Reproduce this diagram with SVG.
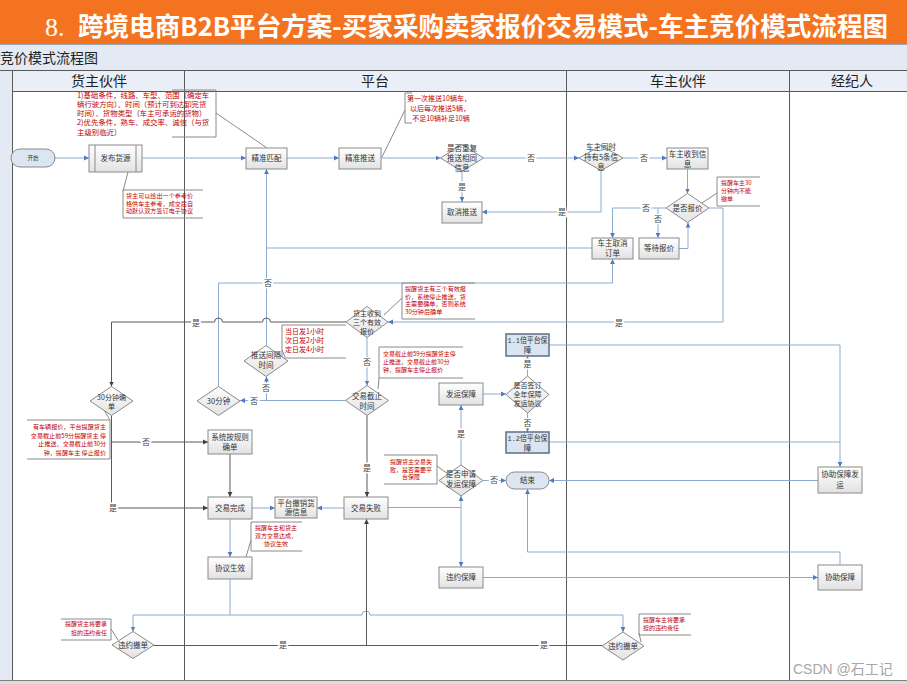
<svg xmlns="http://www.w3.org/2000/svg" width="907" height="684" viewBox="0 0 907 684">
<defs>
<linearGradient id="g" x1="0" y1="0" x2="0" y2="1"><stop offset="0" stop-color="#ffffff"/><stop offset="1" stop-color="#e2e2e2"/></linearGradient>
<marker id="ab" markerWidth="6" markerHeight="6" refX="5" refY="3" orient="auto" markerUnits="userSpaceOnUse"><path d="M0,0.6 L5,3 L0,5.4z" fill="#4F7CC0"/></marker>
<marker id="ad" markerWidth="6" markerHeight="6" refX="5" refY="3" orient="auto" markerUnits="userSpaceOnUse"><path d="M0,0.6 L5,3 L0,5.4z" fill="#404040"/></marker>
<style>
.n{fill:url(#g);stroke:#8a8a8a;stroke-width:1}
.tm{fill:#dce6f2;stroke:#8a8a8a;stroke-width:1}
.bl{fill:#dbe5f1;stroke:#5f6f86;stroke-width:1.5}
.t{font-family:"Noto Sans CJK SC","Liberation Sans",sans-serif;font-size:7.5px;fill:#333;text-anchor:middle}
.t7{font-size:7px}
.c{fill:none;stroke:#8eaad0;stroke-width:1}
.ca{fill:none;stroke:#8eaad0;stroke-width:1;marker-end:url(#ab)}
.d{fill:none;stroke:#5a5a5a;stroke-width:1}
.da{fill:none;stroke:#5a5a5a;stroke-width:1;marker-end:url(#ad)}
.lb{font-family:"Noto Sans CJK SC","Liberation Sans",sans-serif;font-size:8px;fill:#444;text-anchor:middle;stroke:#fff;stroke-width:3px;paint-order:stroke}
.br{fill:none;stroke:#8a8a8a;stroke-width:1}
.an{font-family:"Noto Sans CJK SC","Liberation Sans",sans-serif;font-size:6px;fill:#c00000}
.lane{stroke:#595959;stroke-width:1}
.hd{font-family:"Noto Sans CJK SC",sans-serif;font-size:14px;fill:#222;text-anchor:middle}
</style>
</defs>
<rect width="907" height="684" fill="#fff"/>
<!-- title -->
<rect x="0" y="0" width="907" height="44" fill="#f47321"/>
<text x="45" y="36" font-family="Liberation Serif,serif" font-size="26" fill="#fff">8.</text>
<text x="78" y="36" font-family="Noto Sans CJK SC,sans-serif" font-weight="bold" font-size="26" fill="#fff" textLength="810" lengthAdjust="spacingAndGlyphs">跨境电商B2B平台方案-买家采购卖家报价交易模式-车主竞价模式流程图</text>
<rect x="0" y="44" width="907" height="26" fill="#e4eaf4"/>
<line x1="0" y1="44.5" x2="907" y2="44.5" stroke="#9aa3b0" stroke-width="1"/>
<text x="0" y="63" font-family="Noto Sans CJK SC,sans-serif" font-size="14" fill="#222">竞价模式流程图</text>
<rect x="0" y="70" width="12" height="610" fill="#e4eaf4"/>
<rect x="12" y="70" width="895" height="21" fill="#e9eef7"/>
<!-- lanes -->
<g id="lanes">
<line class="lane" x1="0" y1="70.5" x2="907" y2="70.5"/>
<line class="lane" x1="12" y1="91.5" x2="907" y2="91.5"/>
<line class="lane" x1="12.5" y1="70" x2="12.5" y2="680"/>
<line class="lane" x1="184.5" y1="70" x2="184.5" y2="680"/>
<line class="lane" x1="566.5" y1="70" x2="566.5" y2="680"/>
<line class="lane" x1="789.5" y1="70" x2="789.5" y2="680"/>
<rect x="0" y="680" width="907" height="4" fill="#dcdcdc"/>
<line x1="0" y1="680.5" x2="907" y2="680.5" stroke="#808080"/>
<text class="hd" x="99" y="86">货主伙伴</text>
<text class="hd" x="375" y="86">平台</text>
<text class="hd" x="678" y="86">车主伙伴</text>
<text class="hd" x="852" y="86">经纪人</text>
</g>
<!-- connectors -->
<g id="connectors">
<path class="ca" d="M55,158 H89"/>
<path class="ca" d="M142,158 H246"/>
<path class="ca" d="M287,158 H339"/>
<path class="ca" d="M381,158 H440.5"/>
<path class="ca" d="M483.5,158 H579"/>
<path class="ca" d="M623,158 H667"/>
<path class="ca" d="M601,170.5 V212 H482"/>
<path class="ca" d="M462,171.5 V202"/>
<path class="ca" d="M687.5,169 V193.5"/>
<path class="ca" d="M666,208 H612.5 V238"/>
<path class="ca" d="M658,208 V238"/>
<path class="ca" d="M679,248.5 H688 V222.5"/>
<path class="c" d="M592,248 H266.5"/>
<path class="ca" d="M266.5,345.5 V169"/>
<path class="ca" d="M218.5,386.5 V283 H612.5 V259"/>
<path class="ca" d="M709,208 H723 V322 H388"/>
<path class="da" d="M346,322 H270.5 A4,4 0 0 0 262.5,322 H222.5 A4,4 0 0 0 214.5,322 H111.5 V386.5"/>
<path class="ca" d="M367,337.5 V385.5"/>
<path class="ca" d="M345.5,400.5 H240"/>
<path class="ca" d="M266.5,400.5 V376.5"/>
<path class="da" d="M111.5,415.5 V508 H208"/>
<path class="da" d="M111.5,442 H208"/>
<path class="da" d="M230,454 V497"/>
<path class="ca" d="M252,508 H275"/>
<path class="ca" d="M344,508 H317"/>
<path class="da" d="M367,415.5 V497"/>
<path class="ca" d="M230,519 V557"/>
<path class="ca" d="M230,579 V615 H133 V631.5"/>
<path class="ca" d="M230,615 H362 A4,4 0 0 1 370,615 H623 V632"/>
<path class="d" d="M154,645.5 H602"/>
<path class="da" d="M366.5,645.5 V519"/>
<path class="c" d="M388,507.5 H461"/>
<path class="ca" d="M461,507.5 V496"/>
<path class="ca" d="M461,507.5 V567"/>
<path class="ca" d="M461,465 V405"/>
<path class="ca" d="M483,394 H506"/>
<path class="ca" d="M527.5,376 V356"/>
<path class="ca" d="M527.5,413 V432"/>
<path class="ca" d="M549,345 H840 V467"/>
<path class="c" d="M549,442 H840"/>
<path class="ca" d="M818,480.5 H549"/>
<path class="ca" d="M483,480.5 H506"/>
<path class="ca" d="M483,577.5 H818"/>
<path class="ca" d="M840,565 V552 H527.5 V489"/>
<!-- labels -->
<text class="lb" x="531" y="161">否</text>
<text class="lb" x="644" y="161">否</text>
<text class="lb" x="562" y="215">是</text>
<text class="lb" x="462" y="190">是</text>
<text class="lb" x="646" y="211">否</text>
<text class="lb" x="658" y="222">否</text>
<text class="lb" x="268" y="286">否</text>
<text class="lb" x="619" y="326">是</text>
<text class="lb" x="196" y="326">是</text>
<text class="lb" x="367" y="365">否</text>
<text class="lb" x="254" y="404">否</text>
<text class="lb" x="266" y="391">否</text>
<text class="lb" x="113" y="511">是</text>
<text class="lb" x="146" y="445">否</text>
<text class="lb" x="367" y="471">是</text>
<text class="lb" x="283" y="648">是</text>
<text class="lb" x="544" y="648">是</text>
<text class="lb" x="461" y="437">是</text>
<text class="lb" x="527.5" y="367">是</text>
<text class="lb" x="527.5" y="426">否</text>
<text class="lb" x="494" y="483">否</text>
<!-- annotation leaders -->
<path class="br" d="M216,113 L267,148"/>
<path class="br" d="M123,191 L128,172"/>
<path class="br" d="M405,110 L382,157"/>
<path class="br" d="M717,193 L702,203"/>
<path class="br" d="M402,298 L384,315"/>
<path class="br" d="M282,350 L285,357"/>
<path class="br" d="M379,378 L378,389"/>
<path class="br" d="M110,420 L104,410"/>
<path class="br" d="M251,540 L246,557"/>
<path class="br" d="M111,629 L118,640"/>
<path class="br" d="M639,633 L641,642"/>
<path class="br" d="M437,466 L448,474"/>
</g>
<!-- annotations -->
<g id="notes">
<path class="br" d="M172,90 H216 V137 H172"/>
<text class="an" style="font-size:7.4px"><tspan x="77" y="97.5">1)基础条件，线路、车型、范围（确定车</tspan><tspan x="77" y="106.8">辆行驶方向）、时间（预计可到达卸完货</tspan><tspan x="77" y="116.1">时间）、货物类型（车主可承运的货物）</tspan><tspan x="77" y="125.4">2)优先条件，熟车、成交率、诚信（与货</tspan><tspan x="77" y="134.7">主级别临近）</tspan></text>
<path class="br" d="M203,190 H123 V218 H203"/>
<text class="an" style="font-size:6.1px"><tspan x="126" y="198">货主可以给出一个参考价</tspan><tspan x="126" y="205.6">格供车主参考，成交后自</tspan><tspan x="126" y="213.2">动默认双方签订电子协议</tspan></text>
<path class="br" d="M412,93 H405 V123 H412"/>
<text class="an" style="font-size:7px;text-anchor:middle"><tspan x="439" y="100.5">第一次推送10辆车，</tspan><tspan x="440" y="110.5">以后每次推送5辆，</tspan><tspan x="441" y="120.5">不足10辆补足10辆</tspan></text>
<path class="br" d="M760,177 H717 V206 H760"/>
<text class="an"><tspan x="721" y="185">提醒车主30</tspan><tspan x="721" y="193">分钟内不能</tspan><tspan x="721" y="201">撤单</tspan></text>
<path class="br" d="M475,283 H402 V319 H475"/>
<text class="an" style="font-size:6.1px"><tspan x="405" y="291">提醒货主有三个有效报</tspan><tspan x="405" y="298.7">价，系统停止推送，货</tspan><tspan x="405" y="306.4">主需要确单，否则系统</tspan><tspan x="405" y="314.1">30分钟后确单</tspan></text>
<path class="br" d="M346,325 H282 V358 H346"/>
<text class="an" style="font-size:7px"><tspan x="285" y="334">当日发1小时</tspan><tspan x="285" y="343">次日发2小时</tspan><tspan x="285" y="352">定日发4小时</tspan></text>
<path class="br" d="M463,347 H379 V378 H463"/>
<text class="an"><tspan x="383" y="356">交易截止前59分提醒货主停</tspan><tspan x="383" y="364">止推送，交易截止前30分</tspan><tspan x="383" y="372">钟，提醒车主停止报价</tspan></text>
<path class="br" d="M27,420 H110 V459 H27"/>
<text class="an" style="font-size:6.1px;text-anchor:end"><tspan x="106" y="429">有车辆报价，平台提醒货主</tspan><tspan x="106" y="437.5">交易截止前59分提醒货主 停</tspan><tspan x="106" y="446">止推送，交易截止前30分</tspan><tspan x="106" y="454.5">钟，提醒车主 停止报价</tspan></text>
<path class="br" d="M302,522 H251 V551 H302"/>
<text class="an" style="text-anchor:middle"><tspan x="276" y="530">提醒车主和货主</tspan><tspan x="276" y="538">双方交易达成，</tspan><tspan x="276" y="546">协议生效</tspan></text>
<path class="br" d="M61,619 H111 V640 H61"/>
<text class="an" style="text-anchor:end"><tspan x="107" y="626">提醒货主将要承</tspan><tspan x="107" y="634.5">担的违约责任</tspan></text>
<path class="br" d="M691,614 H639 V635 H691"/>
<text class="an"><tspan x="643" y="622">提醒车主将要承</tspan><tspan x="643" y="630">担的违约责任</tspan></text>
<path class="br" d="M384,455 H437 V484 H384"/>
<text class="an" style="text-anchor:middle"><tspan x="411" y="464">提醒货主交易失</tspan><tspan x="411" y="471.6">败，是否需要平</tspan><tspan x="411" y="479.2">台保障</tspan></text>
</g>
<!-- nodes -->
<g id="n-start"><rect class="tm" x="11" y="149" width="44" height="18" rx="9"/><text class="t" x="33" y="160" style="font-size:5.5px">开始</text></g>
<g id="n-publish"><rect class="n" x="89" y="145" width="53" height="27"/><line x1="95" y1="145" x2="95" y2="172" stroke="#8a8a8a"/><line x1="136" y1="145" x2="136" y2="172" stroke="#8a8a8a"/><text class="t" x="115.5" y="161">发布货源</text></g>
<g id="n-match"><rect class="n" x="246" y="148" width="41" height="21"/><text class="t" x="266.5" y="161.2">精准匹配</text></g>
<g id="n-push"><rect class="n" x="339" y="148" width="42" height="21"/><text class="t" x="360" y="161.2">精准推送</text></g>
<g id="n-repeat"><polygon class="n" points="440.5,158 462,144.5 483.5,158 462,171.5"/><text class="t" x="462" y="150.7">是否重复</text><text class="t" x="462" y="160.7">推送相同</text><text class="t" x="462" y="170.7">信息</text></g>
<g id="n-cancelpush"><rect class="n" x="442" y="202" width="40" height="21"/><text class="t" x="462" y="215.2">取消推送</text></g>
<g id="n-hold5"><polygon class="n" points="579,158 601,145.5 623,158 601,170.5"/><text class="t" x="601" y="149.7">车主同时</text><text class="t" x="601" y="159.7">持有5条信</text><text class="t" x="601" y="169.7">息</text></g>
<g id="n-recv"><rect class="n" x="667" y="148" width="41" height="21"/><text class="t" x="687.5" y="156.7">车主收到信</text><text class="t" x="687.5" y="166.5">息</text></g>
<g id="n-quote"><polygon class="n" points="666,208 687.5,193.5 709,208 687.5,222.5"/><text class="t" x="687.5" y="210.7">是否报价</text></g>
<g id="n-wait"><rect class="n" x="639" y="238" width="40" height="21"/><text class="t" x="659" y="251.2">等待报价</text></g>
<g id="n-cancelorder"><rect class="n" x="592" y="238" width="41" height="21"/><text class="t" x="612.5" y="246.2">车主取消</text><text class="t" x="612.5" y="256.2">订单</text></g>
<g id="n-three"><polygon class="n" points="346,322 367,306.5 388,322 367,337.5"/><text class="t t7" x="367" y="315.5">货主收到</text><text class="t t7" x="367" y="324.5">三个有效</text><text class="t t7" x="367" y="333.5">报价</text></g>
<g id="n-interval"><polygon class="n" points="244,361 266,345.5 288,361 266,376.5"/><text class="t" x="266" y="357.7">推送间隔</text><text class="t" x="266" y="367.7">时间</text></g>
<g id="n-deadline"><polygon class="n" points="345.5,400.5 367,385.5 388.5,400.5 367,415.5"/><text class="t" x="367" y="398.7">交易截止</text><text class="t" x="367" y="408.7">时间</text></g>
<g id="n-30min"><polygon class="n" points="197,401 218.5,386.5 240,401 218.5,415.5"/><text class="t" x="218.5" y="403.7">30分钟</text></g>
<g id="n-30confirm"><polygon class="n" points="90,401 111.5,386.5 133,401 111.5,415.5"/><text class="t t7" x="111.5" y="399.5">30分钟确</text><text class="t t7" x="111.5" y="408.5">单</text></g>
<g id="n-sysconfirm"><rect class="n" x="208" y="430" width="44" height="24"/><text class="t" x="230" y="440.2">系统按规则</text><text class="t" x="230" y="449.7">确单</text></g>
<g id="n-done"><rect class="n" x="208" y="497" width="44" height="22"/><text class="t" x="230" y="510.7">交易完成</text></g>
<g id="n-revoke"><rect class="n" x="275" y="497" width="42" height="21"/><text class="t" x="296" y="505.7">平台撤销货</text><text class="t" x="296" y="515.2">源信息</text></g>
<g id="n-fail"><rect class="n" x="344" y="497" width="44" height="22"/><text class="t" x="366" y="510.7">交易失败</text></g>
<g id="n-effective"><rect class="n" x="208" y="557" width="44" height="22"/><text class="t" x="230" y="570.7">协议生效</text></g>
<g id="n-breachL"><polygon class="n" points="112,645 133,631.5 154,645 133,658.5"/><text class="t" x="133" y="647.7">违约撤单</text></g>
<g id="n-breachR"><polygon class="n" points="602,646 623,632 644,646 623,660"/><text class="t" x="623" y="648.7">违约撤单</text></g>
<g id="n-apply"><polygon class="n" points="439,480.5 461,465 483,480.5 461,496"/><text class="t" x="461" y="477">是否申请</text><text class="t" x="461" y="486.5">发运保障</text></g>
<g id="n-shipguard"><rect class="n" x="439" y="383" width="44" height="22"/><text class="t" x="461" y="396.7">发运保障</text></g>
<g id="n-annual"><polygon class="n" points="506,394.5 527.5,376 549,394.5 527.5,413"/><text class="t t7" x="527.5" y="388">是否签订</text><text class="t t7" x="527.5" y="397">全年保障</text><text class="t t7" x="527.5" y="406">发运协议</text></g>
<g id="n-11"><rect class="bl" x="506" y="334" width="43" height="22"/><text class="t" x="527.5" y="342.7" style="font-family:'Liberation Mono','Noto Sans CJK SC',monospace" textLength="40" lengthAdjust="spacingAndGlyphs">1.1倍平台保</text><text class="t" x="527.5" y="353.2">障</text></g>
<g id="n-12"><rect class="bl" x="506" y="432" width="43" height="21"/><text class="t" x="527.5" y="440.7" style="font-family:'Liberation Mono','Noto Sans CJK SC',monospace" textLength="40" lengthAdjust="spacingAndGlyphs">1.2倍平台保</text><text class="t" x="527.5" y="450.7">障</text></g>
<g id="n-end"><rect class="tm" x="506" y="472" width="43" height="17" rx="8.5"/><text class="t" x="527.5" y="483.2">结束</text></g>
<g id="n-breachguard"><rect class="n" x="439" y="567" width="44" height="21"/><text class="t" x="461" y="580.2">违约保障</text></g>
<g id="n-assistship"><rect class="n" x="818" y="467" width="44" height="26"/><text class="t" x="840" y="476.7">协助保障发</text><text class="t" x="840" y="487.7">运</text></g>
<g id="n-assist"><rect class="n" x="818" y="565" width="44" height="25"/><text class="t" x="840" y="580.2">协助保障</text></g>
<text x="793" y="674" font-family="Liberation Sans,Noto Sans CJK SC,sans-serif" font-size="14" fill="#a6a6a6">CSDN @石工记</text>
</svg>
